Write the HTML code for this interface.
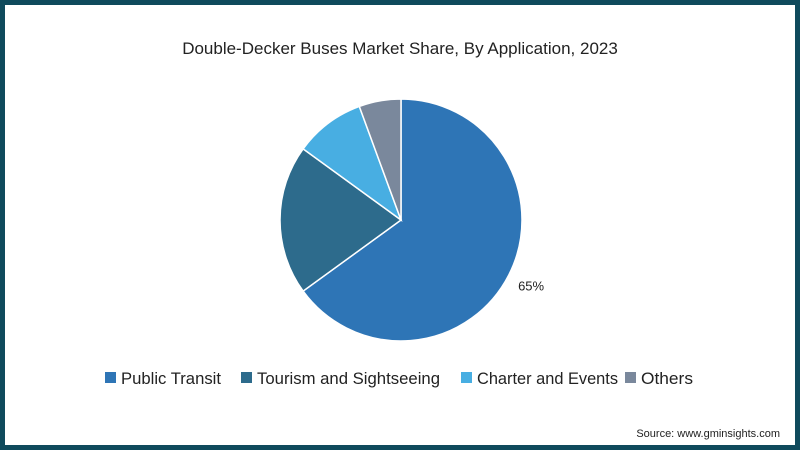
<!DOCTYPE html>
<html><head><meta charset="utf-8"><style>
body{margin:0;background:#fff}
#wrap{position:relative;width:800px;height:450px;box-sizing:border-box;border:5px solid #0f4a5c;background:#fff;font-family:"Liberation Sans",sans-serif;overflow:hidden}
</style></head><body>
<div id="wrap">
<svg id="svg" width="790" height="440" viewBox="5 5 790 440" style="position:absolute;left:0;top:0">
<text x="400" y="54" text-anchor="middle" font-size="17" fill="#222">Double-Decker Buses Market Share, By Application, 2023</text>
<g id="slices"></g>
<g id="legend"></g>
<text x="780" y="437" text-anchor="end" font-size="11" fill="#222">Source: www.gminsights.com</text>
</svg>
</div>
<script>
const categories=["Public Transit","Tourism and Sightseeing","Charter and Events","Others"];
const values=[65,20,9.4,5.6];
const labels=["65%","","",""];
const colors=["#2e75b6","#2d6b8c","#48aee2","#7a889c"];
const legendX=[105,241,461,625];
const legendW=[100,183,141,52];
const ns="http://www.w3.org/2000/svg";
const cx=401,cy=220,r=121;
const total=values.reduce((a,b)=>a+b,0);
const g=document.getElementById('slices');
let a0=0;
function pt(a,rr){return [cx+rr*Math.sin(a),cy-rr*Math.cos(a)];}
values.forEach((v,i)=>{
  const a1=a0+v/total*2*Math.PI;
  const p0=pt(a0,r),p1=pt(a1,r);
  const large=(a1-a0)>Math.PI?1:0;
  const p=document.createElementNS(ns,'path');
  p.setAttribute('d',`M${cx},${cy}L${p0[0]},${p0[1]}A${r},${r} 0 ${large} 1 ${p1[0]},${p1[1]}Z`);
  p.setAttribute('fill',colors[i]);p.setAttribute('stroke','#fff');p.setAttribute('stroke-width','1.5');
  
  
  g.appendChild(p);
  if(labels[i]){
    const am=(a0+a1)/2; const lp=pt(am,r+25);
    const t=document.createElementNS(ns,'text');
    t.setAttribute('x',lp[0]);t.setAttribute('y',lp[1]+4);t.setAttribute('font-size','13');t.setAttribute('fill','#222');
    t.setAttribute('text-anchor','middle');
    t.textContent=labels[i];
    
    
    g.appendChild(t);
  }
  a0=a1;
});
const lg=document.getElementById('legend');
categories.forEach((c,i)=>{
  const s=document.createElementNS(ns,'rect');
  s.setAttribute('x',legendX[i]);s.setAttribute('y',372);s.setAttribute('width',11);s.setAttribute('height',11);s.setAttribute('fill',colors[i]);
  
  
  lg.appendChild(s);
  const t=document.createElementNS(ns,'text');
  t.setAttribute('x',legendX[i]+16);t.setAttribute('y',384);t.setAttribute('font-size','17');t.setAttribute('fill','#222');
  t.setAttribute('textLength',legendW[i]);t.setAttribute('lengthAdjust','spacingAndGlyphs');
  t.textContent=c;
  
  
  lg.appendChild(t);
});
</script>
</body></html>
